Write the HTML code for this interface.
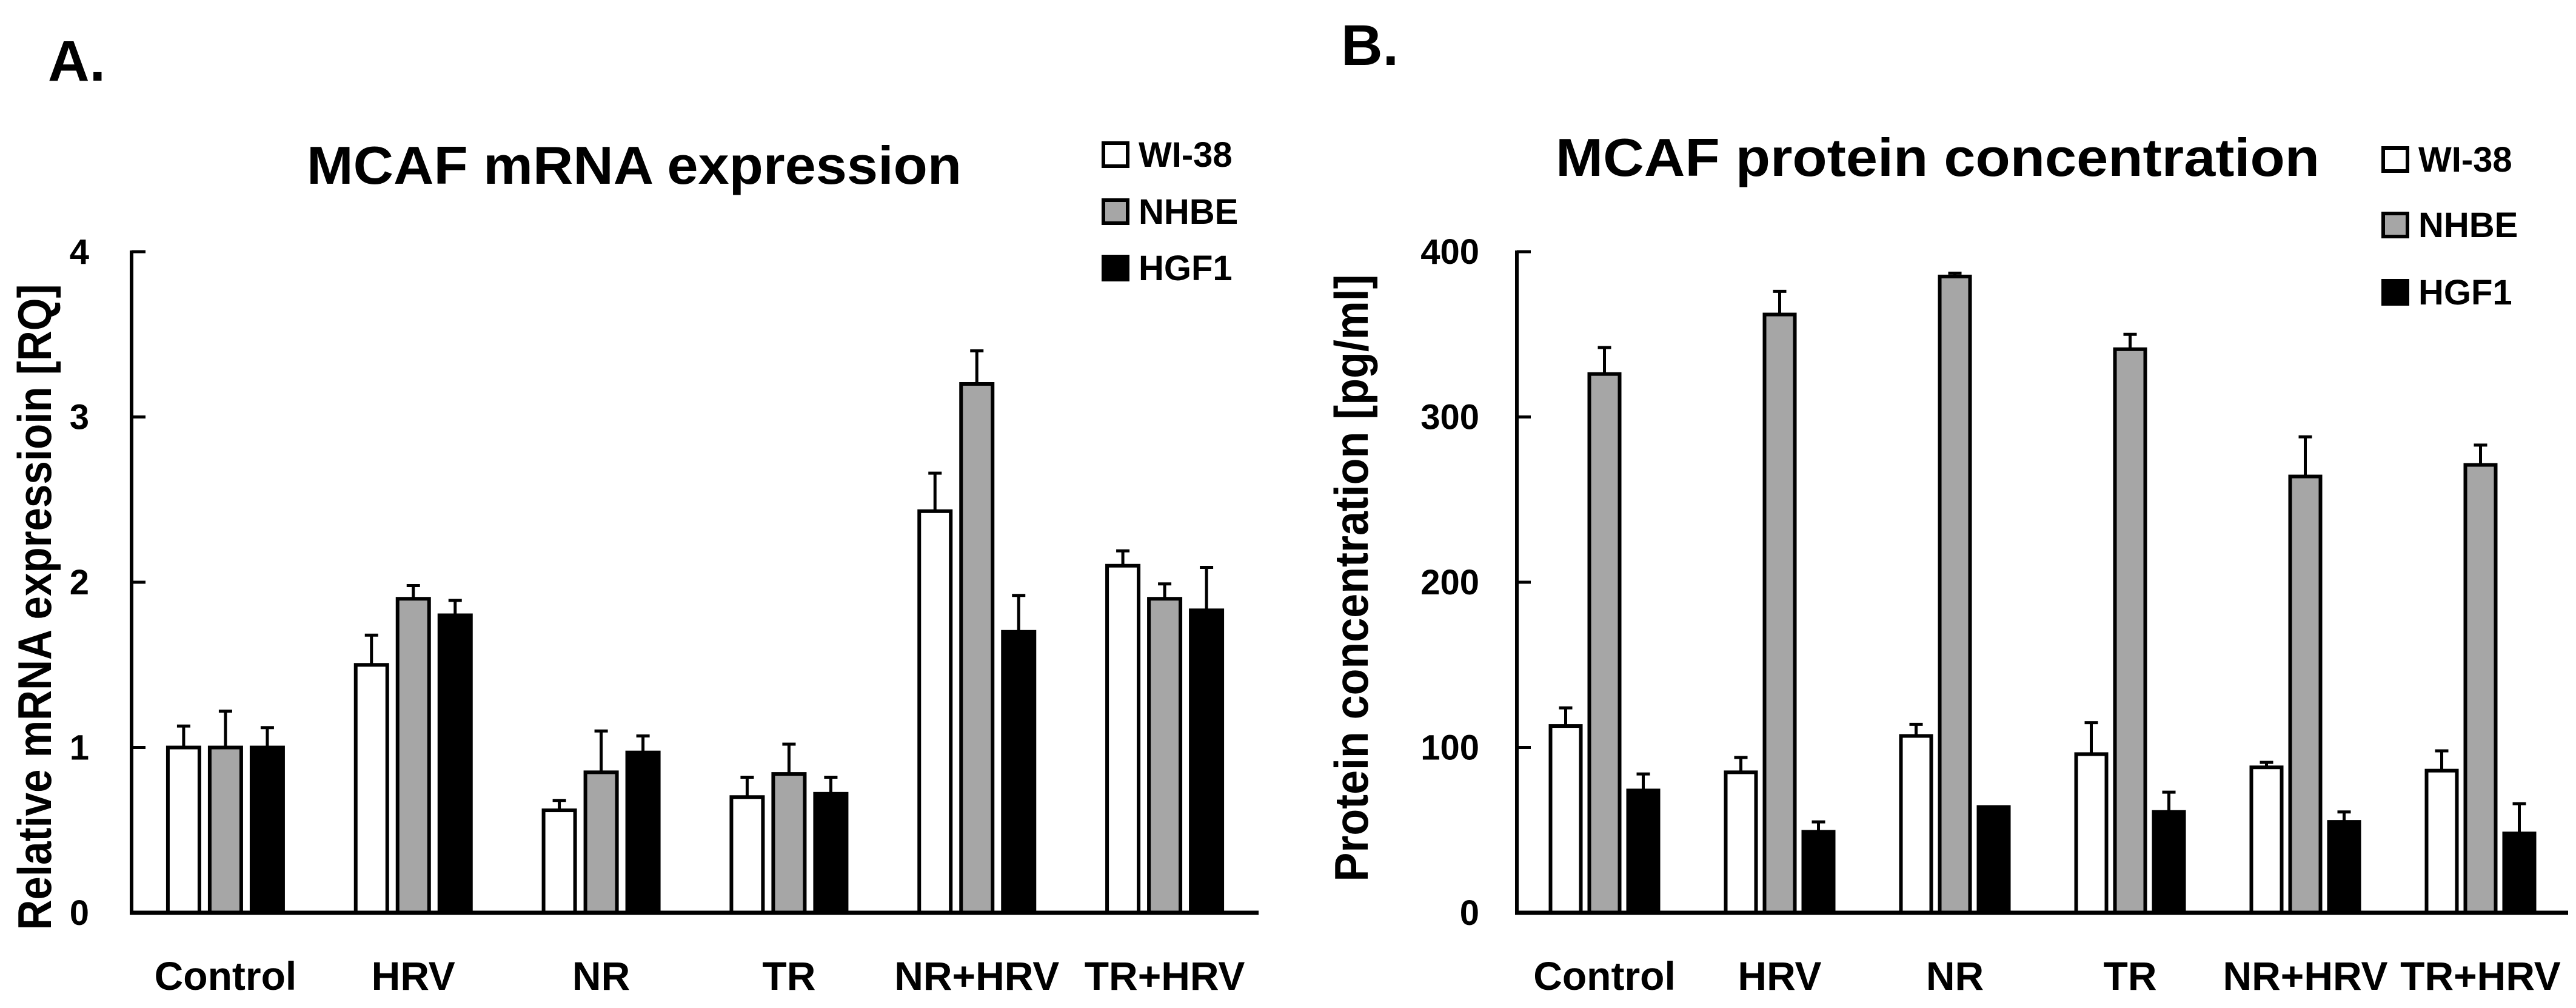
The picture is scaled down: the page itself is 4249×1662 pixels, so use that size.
<!DOCTYPE html>
<html><head><meta charset="utf-8"><style>
html,body{margin:0;padding:0;background:#fff;}
svg{display:block;font-family:"Liberation Sans",sans-serif;font-weight:bold;}
</style></head><body>
<svg id="fig" width="4249" height="1662" viewBox="0 0 4249 1662" xmlns="http://www.w3.org/2000/svg">
<text x="79" y="133" font-size="95">A.</text>
<text x="2212" y="107" font-size="95">B.</text>
<g id="chartA"></g>
<g id="chartB"></g>
</svg>
<script>
const categories = ["Control","HRV","NR","TR","NR+HRV","TR+HRV"];
const seriesNames = ["WI-38","NHBE","HGF1"];
const mrnaWI38 = [1.0,1.5,0.62,0.70,2.43,2.10];
const mrnaWI38Err = [0.13,0.18,0.06,0.12,0.23,0.09];
const mrnaNHBE = [1.0,1.90,0.85,0.84,3.20,1.90];
const mrnaNHBEErr = [0.22,0.08,0.25,0.18,0.20,0.09];
const mrnaHGF1 = [1.0,1.80,0.97,0.72,1.70,1.83];
const mrnaHGF1Err = [0.12,0.09,0.10,0.10,0.22,0.26];
const mrnaTicks = [0,1,2,3,4];
const protWI38 = [113,85,107,96,88,86];
const protWI38Err = [11,9,7,19,3,12];
const protNHBE = [326,362,385,341,264,271];
const protNHBEErr = [16,14,2,9,24,12];
const protHGF1 = [74,49,64,61,55,48];
const protHGF1Err = [10,6,0,12,6,18];
const protTicks = [0,100,200,300,400];

const NS="http://www.w3.org/2000/svg";
const fills=["#ffffff","#a6a6a6","#000000"];
function mk(tag,attrs,parent){const e=document.createElementNS(NS,tag);for(const k in attrs)e.setAttribute(k,attrs[k]);parent.appendChild(e);return e;}

function drawChart(g,cfg){
  const x0=cfg.x0,x1=cfg.x1,y0=1505,yTop=415;
  const yScale=v=>y0-(v/cfg.max)*(y0-yTop);
  const band=(x1-x0)/categories.length;
  const xCenter=i=>x0+band*(i+0.5);
  let t=mk("text",{x:cfg.titleX,y:cfg.titleY,"font-size":88,textLength:cfg.titleLen,lengthAdjust:"spacingAndGlyphs"},g);
  t.textContent=cfg.title;
  
  
  let yt=mk("text",{x:0,y:0,"font-size":78,"text-anchor":"middle",textLength:cfg.yTitleLen,lengthAdjust:"spacingAndGlyphs",transform:`translate(${cfg.yTitleX},${cfg.yTitleY}) rotate(-90)`},g);
  yt.textContent=cfg.yTitle;
  
  
  const series=cfg.series, errs=cfg.errs;
  const step=cfg.step, bw=cfg.bw;
  series.forEach((vals,s)=>{
    vals.forEach((v,i)=>{
      const cx=xCenter(i)+(s-1)*step;
      const yv=yScale(v);
      const ye=yScale(v+errs[s][i]);
      if(errs[s][i]>0){
        const l=mk("line",{x1:cx,x2:cx,y1:yv,y2:ye,stroke:"#000","stroke-width":5},g);
        
        
        const c=mk("line",{x1:cx-11,x2:cx+11,y1:ye,y2:ye,stroke:"#000","stroke-width":5},g);
        
        
      }
      const r=mk("rect",{x:cx-bw/2,y:yv,width:bw,height:y0-yv,fill:fills[s],stroke:"#000","stroke-width":6},g);
      
      
    });
  });
  const ya=mk("line",{x1:x0,x2:x0,y1:yTop-2,y2:y0+3,stroke:"#000","stroke-width":6},g);
  
  
  const xa=mk("line",{x1:x0-3,x2:x1,y1:y0,y2:y0,stroke:"#000","stroke-width":7},g);
  
  
  cfg.ticks.forEach(v=>{
    const y=yScale(v);
    const tk=mk("line",{x1:x0,x2:x0+23,y1:y,y2:y,stroke:"#000","stroke-width":5},g);
    
    
    const tl=mk("text",{x:cfg.tickRight,y:y+20,"font-size":58,"text-anchor":"end"},g);
    tl.textContent=v;
    
    
  });
  categories.forEach((c,i)=>{
    const xl=mk("text",{x:xCenter(i),y:1632,"font-size":66,"text-anchor":"middle"},g);
    xl.textContent=c;
    
    
  });
  seriesNames.forEach((n,s)=>{
    const ly=cfg.legY[s];
    const b=mk("rect",{x:cfg.legX,y:ly,width:40,height:38,fill:fills[s],stroke:"#000","stroke-width":6},g);
    
    
    const lt=mk("text",{x:cfg.legX+58,y:ly+39,"font-size":58},g);
    lt.textContent=n;
    
    
  });
}

drawChart(document.getElementById('chartA'),{
  x0:217,x1:2076,max:4,step:69,bw:52,ticks:mrnaTicks,tickRight:147,
  series:[mrnaWI38,mrnaNHBE,mrnaHGF1],errs:[mrnaWI38Err,mrnaNHBEErr,mrnaHGF1Err],
  title:"MCAF mRNA expression",titleX:506,titleY:303,titleLen:1080,
  yTitle:"Relative mRNA expressioin [RQ]",yTitleX:84,yTitleY:1001,yTitleLen:1065,
  legX:1820,legY:[236,330,423]
});
drawChart(document.getElementById('chartB'),{
  x0:2502,x1:4236,max:400,step:64,bw:50,ticks:protTicks,tickRight:2440,
  series:[protWI38,protNHBE,protHGF1],errs:[protWI38Err,protNHBEErr,protHGF1Err],
  title:"MCAF protein concentration",titleX:2566,titleY:290,titleLen:1260,
  yTitle:"Protein concentration [pg/ml]",yTitleX:2256,yTitleY:953,yTitleLen:1001,
  legX:3931,legY:[244,352,463]
});
</script>
</body></html>
